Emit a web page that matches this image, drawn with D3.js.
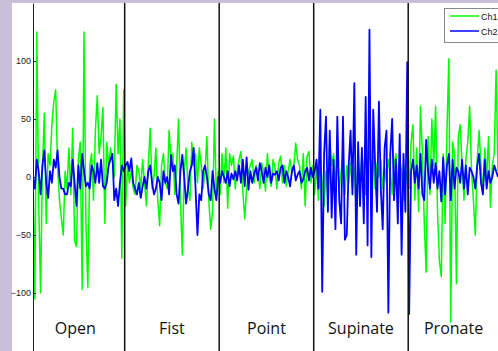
<!DOCTYPE html>
<html>
<head>
<meta charset="utf-8">
<script src="https://cdn.jsdelivr.net/npm/d3@7"></script>
<style>
  body { margin: 0; background: #c8c0d8; }
  svg { display: block; }
  .y-axis text { font-family: "Liberation Sans", Arial, sans-serif; font-size: 9px; fill: #222; }
  .gesture { font-family: "Open Sans", sans-serif; font-size: 16px; fill: #111; }
  .legend text { font-family: "Liberation Sans", Arial, sans-serif; font-size: 9px; fill: #111; }
</style>
</head>
<body>
<svg id="chart"></svg>
<script>
// gesture segments, in recording order
const gestures = ["Open", "Fist", "Point", "Supinate", "Pronate"]
const yTicks = [-100, -50, 0, 50, 100]

// Ch1 (green) per gesture
const ch1Open = [0, -105, 125, -20, -100, 10, 55, -40, 20, 10, 45, 65, 75, 10, -20, -35, -50, 5, -10, 25,
  -15, 42, -55, -60, 15, 30, -97, 125, -40, -95, 10, 20, -20, 40, 70, 20, 35, 60, -40, 30,
  10, 25, 15, 0, 80, 20, 50, -70, 75]
const ch1Fist = [-25, 10, -5, 5, -10, -15, 10, 5, -10, 15, -5, -25, 10, 42, -10, 0, 25, -20, -42, 10,
  20, -5, -10, 40, 15, 20, -15, 10, 50, -20, -67, 5, 25, -10, -20, 30, 10, 20, -5, 25,
  10, -10, 5, 35, -20, -45, -30, 50, -15, 5]
const ch1Point = [-15, 20, -5, 25, -27, 20, 10, 18, -10, 5, 15, 22, -12, -36, -10, 5, 10, 15, -5, 10,
  5, -10, 12, 5, -12, 20, 0, -8, 15, 8, -10, 12, 18, -5, 10, -8, 5, 15, 3, 10,
  29, 15, 10, -10, 20, -25, 18, 22, -5, 10]
const ch1Supinate = [-15, 10, -20, 15, -5, -25, 5, -19, 32, 10, 20, -5, 15, -10, 5, 18, -15, 10, -5, 12,
  -10, 8, -29, 15, -10, 20, 5, -15, 10, 22, 5, 18, -10, 12, 0, 15, -10, 8, -5, 15,
  5, -15, 10, 20, -10, 15, 5, -20, 10, -5]
const ch1Pronate = [-10, 30, 45, -20, 25, -30, 61, 20, -40, -82, 35, -15, 50, 10, 61, -30, -72, -86, 20, -40,
  40, 102, -125, 30, 20, -92, 35, 45, 10, -20, 15, 30, 61, 5, -20, -50, 15, 40, 10, -15,
  25, 0, 35, -26, 10, 20, 92, 5]

// Ch2 (blue) per gesture
const ch2Open = [0, -10, 15, 5, -15, 10, 23, -5, -18, 5, -5, 15, 8, 23, 0, -10, -10, -15, -15, -5,
  -8, 15, -5, -25, 10, -10, 20, 5, -8, -5, -10, 10, 5, -5, 12, -5, 15, -8, -10, -5,
  10, 15, 20, -20, -10, -25, -5, 10, 5]
const ch2Fist = [10, 13, 5, 16, -5, -10, -15, -5, -18, -8, 0, -10, 5, 10, -5, -15, -10, 0, -5, -20,
  5, -5, 0, -15, 19, 5, 10, -15, -23, 5, 19, 0, -23, -10, 5, 10, 25, -10, -50, -15,
  -20, 5, 10, 0, -15, -20, 5, -10, -20, 0]
const ch2Point = [-5, 5, 0, -5, 5, -8, 3, -2, 5, -3, 10, -5, 15, -8, 17, -11, 5, -5, 3, 8,
  -3, 12, 5, -5, 8, 0, 10, -5, 3, 2, 5, -3, 8, 10, -5, 5, 0, -8, 5, 10,
  -3, 2, 5, -5, -2, 5, 8, -3, 8, 0]
const ch2Supinate = [5, 15, -10, 58, -99, 20, 52, -30, 40, -35, 15, -45, 52, -20, -40, 52, -54, -50, 10, 40,
  -15, 81, -67, 30, -25, 25, -40, 69, -59, 127, -69, 58, 10, -30, 65, -10, -45, 25, 40, -117,
  20, 50, -20, 15, -40, 37, -67, 20, -30, 99]
const ch2Pronate = [-118, 5, 15, -5, 10, -10, 20, -15, -20, 32, 5, -10, 15, -5, 12, -10, 5, -21, 17, -15,
  10, 20, -20, 15, -10, 8, 5, -5, 15, -10, 10, -15, 8, 5, 0, -10, 10, 20, -5, -15,
  15, -10, 5, -5, 0, 10, 5, 0]

const ch1 = [].concat(ch1Open, ch1Fist, ch1Point, ch1Supinate, ch1Pronate)
const ch2 = [].concat(ch2Open, ch2Fist, ch2Point, ch2Supinate, ch2Pronate)
const segLengths = [ch1Open, ch1Fist, ch1Point, ch1Supinate, ch1Pronate].map(a => a.length)

const width = 498
const height = 351
const plot = { left: 33, top: 3, right: 498, bottom: 351 }

const svg = d3.select("#chart")
  .attr("width", width)
  .attr("height", height)

// white figure area (lavender shows on left and top)
svg.append("rect")
  .attr("x", 12).attr("y", plot.top)
  .attr("width", width - 12).attr("height", height - plot.top)
  .attr("fill", "white")

const x = d3.scaleLinear()
  .domain([0, ch1.length - 1])
  .range([plot.left, plot.right])

const y = d3.scaleLinear()
  .domain([-150, 150])
  .range([plot.bottom, plot.top])

svg.append("clipPath").attr("id", "plot-clip")
  .append("rect")
  .attr("x", plot.left).attr("y", plot.top)
  .attr("width", plot.right - plot.left).attr("height", plot.bottom - plot.top)

const line = d3.line()
  .x((d, i) => x(i))
  .y(d => y(d))

const lines = svg.append("g").attr("clip-path", "url(#plot-clip)")

lines.append("path")
  .datum(ch1)
  .attr("fill", "none")
  .attr("stroke", "#00ff00")
  .attr("stroke-width", 1.5)
  .attr("stroke-linejoin", "round")
  .attr("d", line)

lines.append("path")
  .datum(ch2)
  .attr("fill", "none")
  .attr("stroke", "#0000ff")
  .attr("stroke-width", 1.8)
  .attr("stroke-linejoin", "round")
  .attr("d", line)

/* segment boundaries and gesture names */
const starts = d3.cumsum([0].concat(segLengths))
const bounds = starts.slice(1, gestures.length).map(s => s - 0.5)

svg.append("g")
  .selectAll("line")
  .data(bounds)
  .enter().append("line")
    .attr("x1", d => x(d)).attr("x2", d => x(d))
    .attr("y1", plot.top).attr("y2", plot.bottom)
    .attr("stroke", "#111")
    .attr("stroke-width", 1.5)

svg.append("g")
  .selectAll("text")
  .data(gestures)
  .enter().append("text")
    .attr("class", "gesture")
    .attr("text-anchor", "middle")
    .attr("x", (d, i) => (x(starts[i] - 0.5) + x(starts[i + 1] - 0.5)) / 2 - (i === 0 ? 3 : 0))
    .attr("y", y(-135))
    .text(d => d)

const yAxis = svg.append("g")
  .attr("class", "y-axis")
  .attr("transform", "translate(" + plot.left + ",0)")
  .call(d3.axisLeft(y)
    .tickValues(yTicks)
    .tickSizeInner(-3)
    .tickSizeOuter(0)
    .tickPadding(2))
yAxis.select(".domain").attr("stroke", "#222")
yAxis.selectAll(".tick line").attr("stroke", "#222")

/* legend */
const legend = svg.append("g").attr("class", "legend")
legend.append("rect")
  .attr("x", 444.5).attr("y", 8.5)
  .attr("width", 70).attr("height", 34)
  .attr("fill", "white")
  .attr("stroke", "#888")

const legendItems = [{ name: "Ch1", color: "#00ff00" }, { name: "Ch2", color: "#0000ff" }]
legendItems.forEach((d, i) => {
  const ly = 16 + i * 15
  legend.append("line")
    .attr("x1", 450).attr("x2", 479)
    .attr("y1", ly).attr("y2", ly)
    .attr("stroke", d.color)
    .attr("stroke-width", 1.5)
  legend.append("text")
    .attr("x", 481).attr("y", ly + 3.5)
    .text(d.name)
})
</script>
</body>
</html>
